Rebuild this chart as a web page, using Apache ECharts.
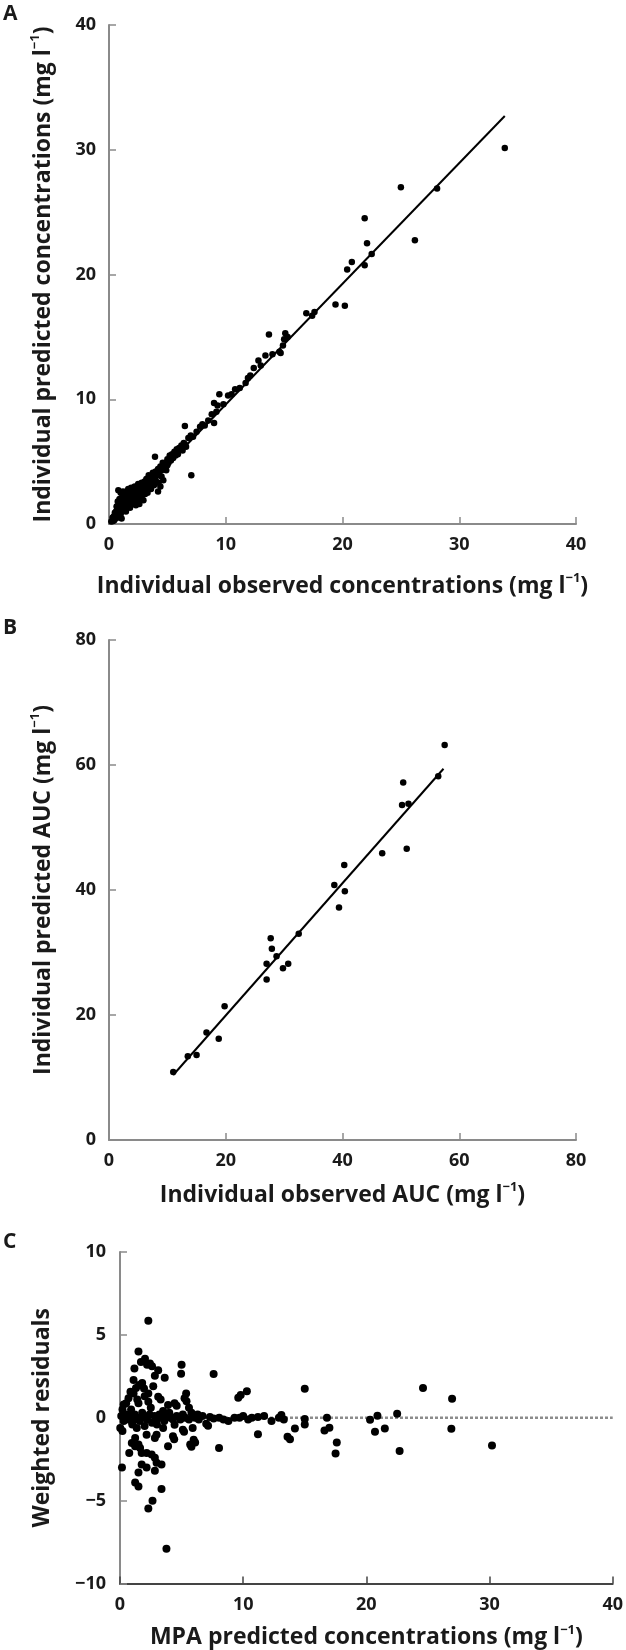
<!DOCTYPE html>
<html>
<head>
<meta charset="utf-8">
<script src="https://cdn.jsdelivr.net/npm/echarts@6/dist/echarts.min.js"></script>
<style>html,body{margin:0;padding:0;background:#fff;}#c{width:626px;height:1650px;}</style>
</head>
<body>
<div id="c"></div>
<script>
// ---------- Panel A: individual observed vs predicted concentrations ----------
const aPoints = [
[0.2,0.2],[0.3,0.5],[0.35,0.25],[0.4,0.6],[0.45,0.3],[0.5,0.9],[0.5,0.4],[0.6,1.0],[0.6,0.7],[0.65,1.4],[0.7,0.5],[0.7,1.2],[0.75,1.8],[0.8,0.9],[0.8,2.7],[0.85,1.5],[0.9,1.1],[0.9,2.0],[0.95,1.6],[1.0,0.8],[1.0,2.5],[1.05,1.3],[1.08,0.45],[1.1,1.9],[1.1,1.0],[1.15,2.2],[1.2,1.5],[1.2,2.6],[1.25,1.1],[1.3,1.7],[1.3,2.0],[1.35,1.3],[1.4,2.3],[1.4,1.6],[1.45,1.0],[1.5,1.9],[1.5,2.6],[1.55,1.4],[1.6,2.1],[1.6,1.7],[1.65,2.8],[1.7,1.5],[1.7,2.3],[1.75,1.9],[1.8,2.6],[1.8,1.3],[1.85,2.1],[1.9,1.7],[1.9,2.9],[1.95,2.4],[2.0,1.9],[2.0,2.2],[2.05,1.6],[2.1,2.7],[2.1,2.0],[2.15,2.4],[2.2,1.8],[2.2,3.0],[2.25,2.2],[2.3,2.6],[2.3,1.5],[2.35,2.0],[2.4,2.9],[2.4,2.3],[2.45,1.7],[2.5,2.5],[2.5,3.2],[2.55,2.1],[2.6,2.7],[2.6,1.6],[2.65,2.4],[2.7,3.0],[2.7,2.0],[2.75,2.6],[2.8,3.3],[2.8,2.2],[2.85,2.8],[2.9,2.5],[2.95,1.9],[3.0,3.0],[3.0,2.7],[3.05,3.4],[3.1,2.4],[3.15,3.1],[3.2,2.8],[3.2,3.6],[3.3,3.0],[3.3,2.5],[3.4,3.3],[3.4,3.9],[3.45,2.9],[3.5,3.5],[3.5,3.1],[3.6,3.7],[3.6,2.8],[3.7,3.4],[3.75,4.1],[3.8,3.6],[3.85,3.1],[3.94,5.4],[3.9,3.9],[4.0,4.2],[4.0,3.5],[4.1,3.9],[4.2,2.6],[4.2,4.4],[4.25,3.3],[4.3,4.0],[4.4,4.6],[4.4,3.0],[4.5,4.3],[4.5,3.8],[4.6,4.9],[4.65,3.5],[4.7,4.5],[4.8,4.8],[4.9,4.3],[5.0,5.2],[5.0,4.7],[5.1,4.9],[5.2,5.5],[5.3,5.1],[5.4,5.6],[5.5,5.3],[5.6,5.8],[5.7,5.5],[5.8,6.0],[5.9,5.6],[6.0,6.1],[6.1,5.95],[6.2,6.3],[6.3,5.9],[6.4,6.5],[6.5,6.4],[6.5,7.86],[6.6,6.2],[6.8,6.9],[7.0,7.1],[7.05,3.9],[7.2,7.0],[7.5,7.4],[7.8,7.8],[8.0,8.0],[8.2,7.9],[8.5,8.3],[8.8,8.8],[9.0,9.7],[9.0,8.1],[9.2,9.0],[9.3,9.5],[9.45,10.4],[9.8,9.6],[10.2,10.3],[10.5,10.4],[10.8,10.8],[11.2,10.9],[11.7,11.3],[11.9,11.7],[12.1,11.9],[12.4,12.5],[12.8,13.1],[13.0,12.7],[13.4,13.5],[13.7,15.2],[14.0,13.6],[14.6,13.8],[14.7,13.7],[14.9,14.3],[15.0,14.8],[15.1,15.3],[15.3,15.0],[16.9,16.9],[17.4,16.7],[17.6,17.0],[19.4,17.6],[20.2,17.5],[20.4,20.4],[20.8,21.0],[21.9,20.75],[21.9,24.5],[22.1,22.5],[22.5,21.65],[25.0,27.0],[26.2,22.75],[28.1,26.9],[33.9,30.15]
];
const aFitLine = [[0.2, 0.1], [33.9, 32.7]];
const aTicks = [0, 10, 20, 30, 40];

// ---------- Panel B: individual observed vs predicted AUC ----------
const bObserved = [11.0,13.5,15.0,16.7,18.8,19.8,27.0,27.0,27.7,27.9,28.7,29.8,30.7,32.5,38.6,39.4,40.4,40.3,46.8,50.4,50.2,51.3,51.0,56.4,57.5];
const bPredicted = [10.9,13.4,13.6,17.2,16.2,21.4,25.7,28.2,32.3,30.6,29.4,27.5,28.2,33.0,40.8,37.2,39.8,44.0,45.9,57.2,53.6,53.8,46.6,58.2,63.2];
const bFitLine = [[11.0, 10.4], [57.3, 59.4]];
const bTicks = [0, 20, 40, 60, 80];

// ---------- Panel C: weighted residuals vs MPA predicted concentrations ----------
const cPoints = [
[2.3,5.85],[1.5,4.0],[2.03,3.56],[1.7,3.37],[2.43,3.27],[2.2,3.2],[2.6,3.1],[1.17,2.97],[3.1,2.87],[2.83,2.53],[3.63,2.41],[5.0,3.2],[4.96,2.65],[7.6,2.64],[1.1,2.27],[1.55,1.97],[1.95,1.77],[0.85,1.57],[1.1,1.47],[2.3,1.47],[3.1,1.27],[5.37,1.47],[5.24,1.17],[4.43,0.87],[3.9,0.77],[0.69,1.17],[0.5,0.87],[1.5,0.87],[2.3,0.97],[9.6,1.2],[9.8,1.37],[10.3,1.6],[15.0,1.75],[24.6,1.8],[26.96,1.15],[5.4,1.0],[5.6,0.6],[4.6,0.72],[22.5,0.24],[20.9,0.12],[1.3,1.8],[1.8,2.1],[2.0,1.3],[2.7,1.9],[3.3,1.1],[1.4,1.1],[2.5,0.6],[0.3,0.8],[0.9,0.5],[3.5,0.4],[4.0,0.3],[5.8,0.3],[6.3,0.2],[0.2,0.5],
[0.1,0.1],[0.3,-0.2],[0.5,0.2],[0.7,-0.1],[0.9,0.1],[1.0,-0.3],[1.2,0.2],[1.4,0.0],[1.6,-0.2],[1.8,0.3],[2.0,0.0],[2.2,-0.1],[2.4,0.2],[2.6,-0.3],[2.8,0.1],[3.0,-0.1],[3.2,0.2],[3.4,0.0],[3.6,-0.2],[3.8,0.1],[4.1,0.0],[4.3,-0.1],[4.6,0.1],[4.9,-0.1],[5.1,0.2],[5.3,0.0],[5.6,-0.1],[5.9,0.1],[6.1,0.0],[6.4,-0.1],[6.7,0.1],[7.0,-0.36],[7.15,-0.48],[7.3,0.05],[7.6,-0.05],[8.05,0.0],[8.4,-0.1],[8.8,-0.2],[9.3,0.0],[9.7,0.0],[10.0,0.1],[10.4,-0.1],[10.7,0.0],[11.2,0.05],[11.7,0.1],[12.3,-0.2],[12.9,0.0],[13.1,0.17],[13.3,-0.1],[15.0,-0.07],[16.8,0.0],[20.3,-0.12],
[0.02,-0.62],[0.16,-3.0],[1.36,-0.62],[2.16,-1.02],[1.23,-1.22],[0.96,-1.52],[1.5,-1.62],[2.97,-1.02],[2.83,-1.22],[3.5,-0.62],[4.43,-0.42],[4.3,-1.12],[5.1,-0.72],[5.9,-0.62],[3.9,-1.72],[5.7,-1.62],[5.98,-1.32],[8.04,-1.82],[0.75,-2.12],[1.23,-1.72],[1.63,-1.82],[1.76,-2.12],[2.16,-2.12],[2.57,-2.22],[2.83,-2.42],[2.97,-2.72],[3.37,-2.82],[1.76,-2.82],[2.16,-3.0],[1.5,-3.3],[2.83,-3.2],[1.23,-3.9],[1.5,-4.15],[3.37,-4.3],[2.64,-5.0],[2.3,-5.47],[3.77,-7.9],[15.0,-0.4],[17.0,-0.6],[16.6,-0.77],[20.7,-0.84],[21.5,-0.65],[26.9,-0.67],[30.2,-1.68],[22.7,-2.0],[17.6,-1.5],[17.5,-2.16],[11.2,-1.0],[13.6,-1.15],[13.8,-1.3],[14.2,-0.65],[6.1,-1.5],[5.8,-1.75],[4.4,-1.3],[5.2,-0.84],[0.2,-0.8],[2.0,-0.5],[3.0,-0.4],[1.0,-0.4]
];
const cZeroLine = [[0, 0], [40, 0]];
const cXTicks = [0, 10, 20, 30, 40];
const cYTicks = [-10, -5, 0, 5, 10];

// ---------- Titles ----------
const panelLetters = ['A', 'B', 'C'];
const xTitles = ['Individual observed concentrations (mg l', 'Individual observed AUC (mg l', 'MPA predicted concentrations (mg l'];
const yTitles = ['Individual predicted concentrations (mg l', 'Individual predicted AUC (mg l', 'Weighted residuals'];

const FONT = '"Open Sans", "DejaVu Sans", sans-serif';
const TXT = '#1a1a1a';
const rich = {
  a: { fontSize: 23, fontWeight: 'bold', fontFamily: FONT, color: TXT, lineHeight: 28 },
  s: { fontSize: 13, fontWeight: 'bold', fontFamily: FONT, color: TXT, lineHeight: 14, verticalAlign: 'top' }
};
function unitTitle(t) { return '{a|' + t + '}{s|−1}{a|)}'; }

function xAxisCfg(idx, min, max, interval, name, gap, color) {
  return {
    gridIndex: idx, type: 'value', min: min, max: max, interval: interval,
    name: name, nameLocation: 'middle', nameGap: gap,
    nameTextStyle: { rich: rich },
    axisLine: { show: true, onZero: false, lineStyle: { color: color, width: 2 } },
    axisTick: { show: true, inside: true, length: 7, lineStyle: { color: color, width: 1.5 } },
    axisLabel: { margin: 12, fontSize: 18, fontWeight: 'bold', fontFamily: FONT, color: TXT,
                 formatter: v => String(v).replace('-', '−') },
    splitLine: { show: false }
  };
}
function yAxisCfg(idx, min, max, interval, name, gap, color, margin) {
  const c = xAxisCfg(idx, min, max, interval, name, gap, color);
  c.axisLabel.margin = margin;
  return c;
}

const aData = aPoints;
const bData = bObserved.map((x, i) => [x, bPredicted[i]]);

const option = {
  animation: false,
  backgroundColor: '#fff',
  grid: [
    { left: 109, top: 25, width: 467, height: 499 },
    { left: 109, top: 640, width: 467, height: 500 },
    { left: 120, top: 1252, width: 498, height: 334 }
  ],
  xAxis: [
    xAxisCfg(0, aTicks[0], aTicks[aTicks.length - 1], 10, unitTitle(xTitles[0]), 48, '#8a8a8a'),
    xAxisCfg(1, bTicks[0], bTicks[bTicks.length - 1], 20, unitTitle(xTitles[1]), 41, '#8a8a8a'),
    xAxisCfg(2, cXTicks[0], cXTicks[cXTicks.length - 1], 10, unitTitle(xTitles[2]), 40, '#444')
  ],
  yAxis: [
    yAxisCfg(0, aTicks[0], aTicks[aTicks.length - 1], 10, unitTitle(yTitles[0]), 52, '#8a8a8a', 13),
    yAxisCfg(1, bTicks[0], bTicks[bTicks.length - 1], 20, unitTitle(yTitles[1]), 52, '#8a8a8a', 13),
    yAxisCfg(2, cYTicks[0], cYTicks[cYTicks.length - 1], 5, '{a|' + yTitles[2] + '}', 64, '#8a8a8a', 14)
  ],
  graphic: panelLetters.map((L, i) => ({
    type: 'text', left: 3, top: [4, 618, 1232][i],
    style: { text: L, fontSize: 21, fontWeight: 'bold', fontFamily: FONT, fill: TXT }
  })),
  series: [
    { type: 'line', xAxisIndex: 0, yAxisIndex: 0, data: aFitLine, symbol: 'none',
      lineStyle: { color: '#000', width: 2 }, z: 3 },
    { type: 'scatter', xAxisIndex: 0, yAxisIndex: 0, data: aData, symbolSize: 6.5,
      itemStyle: { color: '#000', opacity: 1 }, z: 4 },
    { type: 'line', xAxisIndex: 1, yAxisIndex: 1, data: bFitLine, symbol: 'none',
      lineStyle: { color: '#000', width: 2 }, z: 3 },
    { type: 'scatter', xAxisIndex: 1, yAxisIndex: 1, data: bData, symbolSize: 6.5,
      itemStyle: { color: '#000', opacity: 1 }, z: 4 },
    { type: 'line', xAxisIndex: 2, yAxisIndex: 2, data: cZeroLine, symbol: 'none',
      lineStyle: { color: '#8c8c8c', width: 2.5, type: [3, 2] }, z: 2 },
    { type: 'scatter', xAxisIndex: 2, yAxisIndex: 2, data: cPoints, symbolSize: 8,
      itemStyle: { color: '#000', opacity: 1 }, z: 4 }
  ]
};

const chart = echarts.init(document.getElementById('c'), null, { renderer: 'canvas' });
chart.setOption(option);
</script>
</body>
</html>
